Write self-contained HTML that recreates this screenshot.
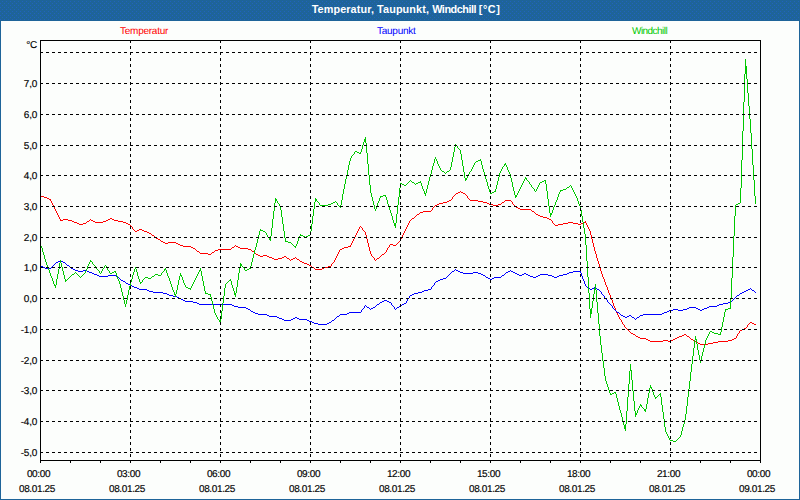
<!DOCTYPE html>
<html><head><meta charset="utf-8"><title>Temperatur, Taupunkt, Windchill</title>
<style>
html,body{margin:0;padding:0;}
body{width:800px;height:500px;overflow:hidden;background:#FCFEFC;font-family:"Liberation Sans",sans-serif;}
#wrap{position:relative;width:800px;height:500px;overflow:hidden;background:#FCFEFC;}
#hdr{position:absolute;left:0;top:0;width:800px;height:21px;background:#1E6499;}
#title{position:absolute;left:6px;top:-1px;width:800px;height:20px;line-height:20px;text-align:center;color:#fff;font-weight:bold;font-size:10.85px;letter-spacing:0px;white-space:nowrap;}
.bl,.br,.bb{position:absolute;background:#1E6499;}
.bl{left:0;top:21px;width:1px;height:479px;}
.br{left:799px;top:21px;width:1px;height:479px;}
.bb{left:0;top:499px;width:800px;height:1px;}
.leg{position:absolute;top:25px;letter-spacing:-0.25px;text-rendering:geometricPrecision;font-size:10px;line-height:14px;white-space:nowrap;}
.yl{position:absolute;left:0;width:37px;text-align:right;letter-spacing:-0.25px;text-rendering:geometricPrecision;-webkit-text-stroke:0.15px #000;font-size:10px;line-height:14px;color:#000;white-space:nowrap;}
.xl{position:absolute;width:80px;text-align:center;letter-spacing:-0.36px;text-rendering:geometricPrecision;-webkit-text-stroke:0.15px #000;font-size:10px;line-height:14px;color:#000;white-space:nowrap;}
svg{position:absolute;left:0;top:0;}
</style></head><body><div id="wrap">
<svg id="hdrsvg" width="800" height="21" viewBox="0 0 800 21" shape-rendering="crispEdges"><defs><pattern id="dth" x="0" y="0" width="4" height="4" patternUnits="userSpaceOnUse"><rect width="4" height="4" fill="#1E6499"/><rect x="0" y="3" width="1" height="1" fill="#2163BE"/><rect x="2" y="1" width="1" height="1" fill="#2163BE"/></pattern></defs><rect width="800" height="21" fill="url(#dth)"/></svg><div id="title"><span style="letter-spacing:0.1px">Temperatur, Taupunkt, </span><span style="letter-spacing:-0.45px">Windchill </span><span style="letter-spacing:0.55px">[°C]</span></div>
<div class="bl"></div><div class="br"></div><div class="bb"></div>
<div class="leg" style="left:120px;color:#FF0000">Temperatur</div>
<div class="leg" style="left:377px;color:#0000FF">Taupunkt</div>
<div class="leg" style="left:632px;color:#00C800;letter-spacing:-0.55px">Windchill</div>
<div class="yl" style="top:39px">°C</div>
<div class="yl" style="top:78px">7,0</div>
<div class="yl" style="top:109px">6,0</div>
<div class="yl" style="top:140px">5,0</div>
<div class="yl" style="top:170px">4,0</div>
<div class="yl" style="top:201px">3,0</div>
<div class="yl" style="top:232px">2,0</div>
<div class="yl" style="top:262px">1,0</div>
<div class="yl" style="top:293px">0,0</div>
<div class="yl" style="top:324px">-1,0</div>
<div class="yl" style="top:355px">-2,0</div>
<div class="yl" style="top:385px">-3,0</div>
<div class="yl" style="top:416px">-4,0</div>
<div class="yl" style="top:447px">-5,0</div>
<div class="xl" style="left:-1.5px;top:468px">00:00</div><div class="xl" style="left:-3px;top:483px">08.01.25</div>
<div class="xl" style="left:88.5px;top:468px">03:00</div><div class="xl" style="left:87px;top:483px">08.01.25</div>
<div class="xl" style="left:178.5px;top:468px">06:00</div><div class="xl" style="left:177px;top:483px">08.01.25</div>
<div class="xl" style="left:268.5px;top:468px">09:00</div><div class="xl" style="left:267px;top:483px">08.01.25</div>
<div class="xl" style="left:358.5px;top:468px">12:00</div><div class="xl" style="left:357px;top:483px">08.01.25</div>
<div class="xl" style="left:448.5px;top:468px">15:00</div><div class="xl" style="left:447px;top:483px">08.01.25</div>
<div class="xl" style="left:538.5px;top:468px">18:00</div><div class="xl" style="left:537px;top:483px">08.01.25</div>
<div class="xl" style="left:628.5px;top:468px">21:00</div><div class="xl" style="left:627px;top:483px">08.01.25</div>
<div class="xl" style="left:718.5px;top:468px">00:00</div><div class="xl" style="left:717px;top:483px">09.01.25</div>
<svg width="800" height="500" viewBox="0 0 800 500" shape-rendering="crispEdges">
<path fill="#FF0000" d="M258 255h2v1h-2zM263 255h4v1h-4zM682 335h2v1h-2zM640 338h6v1h-6zM675 338h2v1h-2zM734 338h2v1h-2zM180 245h3v1h-3zM393 245h3v1h-3zM63 219h5v1h-5zM108 219h2v1h-2zM112 219h2v1h-2zM549 219h2v1h-2zM74 222h3v1h-3zM95 222h8v1h-8zM123 222h3v1h-3zM568 222h5v1h-5zM583 222h3v1h-3zM540 216h3v1h-3zM555 225h3v1h-3zM648 340h2v1h-2zM663 340h5v1h-5zM671 340h2v1h-2zM693 340h2v1h-2zM728 340h4v1h-4zM200 253h8v1h-8zM137 230h2v1h-2zM142 230h2v1h-2zM328 266h3v1h-3zM447 201h2v1h-2zM478 201h5v1h-5zM139 229h3v1h-3zM696 342h2v1h-2zM713 342h5v1h-5zM520 209h11v1h-11zM443 202h4v1h-4zM483 202h4v1h-4zM502 202h2v1h-2zM77 223h2v1h-2zM83 223h3v1h-3zM126 223h2v1h-2zM563 223h5v1h-5zM573 223h5v1h-5zM581 223h2v1h-2zM650 341h13v1h-13zM668 341h3v1h-3zM718 341h10v1h-10zM156 238h2v1h-2zM191 247h2v1h-2zM232 247h2v1h-2zM238 247h2v1h-2zM344 247h4v1h-4zM72 221h2v1h-2zM87 221h2v1h-2zM93 221h2v1h-2zM103 221h3v1h-3zM118 221h5v1h-5zM304 263h3v1h-3zM79 224h4v1h-4zM128 224h2v1h-2zM558 224h5v1h-5zM578 224h3v1h-3zM212 252h2v1h-2zM163 242h2v1h-2zM168 242h8v1h-8zM274 259h4v1h-4zM291 259h2v1h-2zM297 259h2v1h-2zM700 344h8v1h-8zM636 336h2v1h-2zM679 336h3v1h-3zM687 336h2v1h-2zM193 248h2v1h-2zM240 248h8v1h-8zM342 248h2v1h-2zM208 254h3v1h-3zM256 254h2v1h-2zM382 254h2v1h-2zM315 269h7v1h-7zM218 249h13v1h-13zM248 249h3v1h-3zM340 249h2v1h-2zM449 200h2v1h-2zM470 200h8v1h-8zM505 200h6v1h-6zM638 337h2v1h-2zM677 337h2v1h-2zM147 232h2v1h-2zM260 256h3v1h-3zM267 256h2v1h-2zM284 256h2v1h-2zM458 192h2v1h-2zM461 192h2v1h-2zM60 220h3v1h-3zM68 220h4v1h-4zM91 220h2v1h-2zM106 220h2v1h-2zM114 220h4v1h-4zM439 203h4v1h-4zM487 203h2v1h-2zM307 264h2v1h-2zM178 244h2v1h-2zM390 244h3v1h-3zM423 211h8v1h-8zM532 211h2v1h-2zM437 204h2v1h-2zM489 204h4v1h-4zM498 204h3v1h-3zM110 218h2v1h-2zM412 218h2v1h-2zM547 218h2v1h-2zM698 343h2v1h-2zM708 343h5v1h-5zM646 339h2v1h-2zM673 339h2v1h-2zM691 339h2v1h-2zM732 339h2v1h-2zM49 199h2v1h-2zM631 333h2v1h-2zM269 257h3v1h-3zM282 257h2v1h-2zM41 196h3v1h-3zM417 214h2v1h-2zM536 214h2v1h-2zM272 258h2v1h-2zM278 258h4v1h-4zM287 258h2v1h-2zM293 258h2v1h-2zM377 258h2v1h-2zM456 193h2v1h-2zM463 193h2v1h-2zM538 215h2v1h-2zM158 239h2v1h-2zM518 208h2v1h-2zM435 205h2v1h-2zM493 205h5v1h-5zM165 243h3v1h-3zM176 243h2v1h-2zM312 267h2v1h-2zM324 267h4v1h-4zM47 198h2v1h-2zM183 246h8v1h-8zM236 246h2v1h-2zM348 246h3v1h-3zM633 334h2v1h-2zM684 334h2v1h-2zM152 235h2v1h-2zM135 231h2v1h-2zM144 231h3v1h-3zM197 251h2v1h-2zM252 251h2v1h-2zM516 207h2v1h-2zM215 250h3v1h-3zM740 330h2v1h-2zM752 323h2v1h-2zM420 212h3v1h-3zM543 217h4v1h-4zM161 241h2v1h-2zM742 329h2v1h-2zM300 261h2v1h-2zM44 197h3v1h-3zM744 328h2v1h-2zM149 233h2v1h-2zM302 262h2v1h-2zM754 324h2v1h-2zM750 322h2v1h-2zM309 265h2v1h-2zM322 268h2v1h-2zM593 243h1v4h-1zM407 225h1v2h-1zM604 279h1v3h-1zM354 237h1v2h-1zM589 229h1v2h-1zM311 266h1v1h-1zM597 258h1v3h-1zM586 223h1v2h-1zM366 235h1v4h-1zM400 239h1v2h-1zM160 240h1v1h-1zM610 295h1v3h-1zM335 258h1v2h-1zM58 215h1v2h-1zM600 268h1v3h-1zM511 201h1v1h-1zM621 320h1v2h-1zM353 239h1v2h-1zM596 254h1v4h-1zM747 325h1v2h-1zM365 232h1v3h-1zM358 229h1v2h-1zM434 206h1v1h-1zM599 264h1v4h-1zM469 199h1v1h-1zM738 333h1v1h-1zM635 335h1v1h-1zM357 231h1v2h-1zM295 257h1v1h-1zM624 325h1v2h-1zM453 196h1v1h-1zM57 213h1v2h-1zM296 258h1v1h-1zM254 252h1v1h-1zM617 313h1v2h-1zM54 207h1v2h-1zM606 285h1v2h-1zM614 306h1v2h-1zM51 201h1v2h-1zM410 220h1v1h-1zM468 198h1v1h-1zM337 254h1v2h-1zM151 234h1v1h-1zM592 239h1v4h-1zM352 241h1v2h-1zM585 221h1v1h-1zM746 327h1v1h-1zM554 224h1v1h-1zM155 237h1v1h-1zM406 227h1v2h-1zM595 251h1v3h-1zM234 246h1v1h-1zM616 311h1v2h-1zM368 243h1v4h-1zM211 253h1v1h-1zM628 330h1v1h-1zM613 303h1v3h-1zM367 239h1v4h-1zM452 197h1v2h-1zM749 323h1v1h-1zM414 217h1v1h-1zM371 254h1v2h-1zM609 293h1v2h-1zM196 250h1v1h-1zM513 204h1v1h-1zM737 334h1v2h-1zM53 205h1v2h-1zM627 329h1v1h-1zM56 211h1v2h-1zM336 256h1v2h-1zM433 207h1v1h-1zM356 233h1v2h-1zM467 196h1v2h-1zM231 248h1v1h-1zM598 261h1v3h-1zM405 229h1v2h-1zM501 203h1v1h-1zM512 202h1v2h-1zM332 263h1v1h-1zM608 290h1v3h-1zM401 237h1v2h-1zM601 271h1v3h-1zM360 226h1v1h-1zM132 227h1v2h-1zM591 235h1v4h-1zM594 247h1v4h-1zM409 221h1v2h-1zM52 203h1v2h-1zM615 308h1v3h-1zM605 282h1v3h-1zM455 194h1v1h-1zM370 251h1v3h-1zM397 243h1v1h-1zM736 336h1v2h-1zM374 258h1v2h-1zM535 213h1v1h-1zM255 253h1v1h-1zM369 247h1v4h-1zM55 209h1v2h-1zM89 220h1v1h-1zM404 231h1v2h-1zM590 231h1v4h-1zM416 215h1v1h-1zM351 243h1v2h-1zM690 338h1v1h-1zM339 250h1v2h-1zM331 264h1v2h-1zM289 259h1v1h-1zM388 247h1v1h-1zM612 300h1v3h-1zM534 212h1v1h-1zM290 260h1v1h-1zM432 208h1v2h-1zM131 226h1v1h-1zM214 251h1v1h-1zM619 317h1v2h-1zM376 259h1v1h-1zM355 235h1v2h-1zM686 335h1v1h-1zM689 337h1v1h-1zM629 331h1v1h-1zM603 277h1v2h-1zM251 250h1v1h-1zM373 257h1v1h-1zM408 223h1v2h-1zM130 225h1v1h-1zM515 206h1v1h-1zM607 287h1v3h-1zM380 256h1v1h-1zM362 228h1v2h-1zM384 253h1v1h-1zM334 260h1v2h-1zM454 195h1v1h-1zM372 256h1v1h-1zM403 233h1v2h-1zM552 221h1v2h-1zM514 205h1v1h-1zM739 331h1v2h-1zM314 268h1v1h-1zM387 248h1v2h-1zM338 252h1v2h-1zM399 241h1v1h-1zM50 200h1v1h-1zM235 245h1v1h-1zM411 219h1v1h-1zM361 227h1v1h-1zM133 229h1v1h-1zM415 216h1v1h-1zM402 235h1v2h-1zM465 194h1v1h-1zM602 274h1v3h-1zM386 250h1v2h-1zM375 260h1v1h-1zM695 341h1v1h-1zM379 257h1v1h-1zM551 220h1v1h-1zM620 319h1v1h-1zM364 231h1v1h-1zM299 260h1v1h-1zM333 262h1v1h-1zM588 227h1v2h-1zM460 191h1v1h-1zM623 324h1v1h-1zM398 242h1v1h-1zM286 257h1v1h-1zM531 210h1v1h-1zM630 332h1v1h-1zM748 324h1v1h-1zM504 201h1v1h-1zM587 225h1v2h-1zM359 227h1v2h-1zM622 322h1v2h-1zM363 230h1v1h-1zM154 236h1v1h-1zM60 219h1v1h-1zM451 199h1v1h-1zM199 252h1v1h-1zM86 222h1v1h-1zM381 255h1v1h-1zM90 219h1v1h-1zM611 298h1v2h-1zM385 252h1v1h-1zM553 223h1v1h-1zM389 245h1v2h-1zM618 315h1v2h-1zM350 245h1v1h-1zM59 217h1v2h-1zM134 230h1v1h-1zM396 244h1v1h-1zM431 210h1v1h-1zM466 195h1v1h-1zM195 249h1v1h-1zM419 213h1v1h-1zM625 327h1v1h-1zM626 328h1v1h-1z"/>
<path fill="#0000FF" d="M234 306h4v1h-4zM709 306h8v1h-8zM97 275h2v1h-2zM108 275h8v1h-8zM483 275h2v1h-2zM502 275h2v1h-2zM519 275h3v1h-3zM528 275h2v1h-2zM538 275h2v1h-2zM548 275h4v1h-4zM559 275h4v1h-4zM253 312h2v1h-2zM349 312h12v1h-12zM617 312h2v1h-2zM664 312h3v1h-3zM132 286h2v1h-2zM246 308h2v1h-2zM371 308h2v1h-2zM687 308h2v1h-2zM696 308h2v1h-2zM704 308h3v1h-3zM248 309h2v1h-2zM673 309h5v1h-5zM683 309h4v1h-4zM698 309h2v1h-2zM702 309h2v1h-2zM318 324h9v1h-9zM279 318h3v1h-3zM293 318h2v1h-2zM297 318h2v1h-2zM238 307h8v1h-8zM367 307h2v1h-2zM373 307h2v1h-2zM397 307h2v1h-2zM689 307h7v1h-7zM707 307h2v1h-2zM277 317h2v1h-2zM295 317h2v1h-2zM625 317h2v1h-2zM632 317h2v1h-2zM637 317h2v1h-2zM89 272h3v1h-3zM460 272h3v1h-3zM473 272h5v1h-5zM506 272h2v1h-2zM513 272h2v1h-2zM569 272h4v1h-4zM163 293h4v1h-4zM414 293h4v1h-4zM740 293h2v1h-2zM282 319h2v1h-2zM291 319h2v1h-2zM299 319h8v1h-8zM92 273h2v1h-2zM463 273h10v1h-10zM478 273h3v1h-3zM515 273h2v1h-2zM524 273h2v1h-2zM567 273h2v1h-2zM255 313h3v1h-3zM347 313h2v1h-2zM662 313h2v1h-2zM94 274h3v1h-3zM481 274h2v1h-2zM517 274h2v1h-2zM522 274h2v1h-2zM526 274h2v1h-2zM540 274h8v1h-8zM563 274h4v1h-4zM258 314h9v1h-9zM340 314h7v1h-7zM643 314h19v1h-19zM199 304h33v1h-33zM377 304h2v1h-2zM402 304h2v1h-2zM719 304h4v1h-4zM167 294h2v1h-2zM412 294h2v1h-2zM185 301h8v1h-8zM382 301h2v1h-2zM387 301h2v1h-2zM45 268h6v1h-6zM71 268h2v1h-2zM128 284h2v1h-2zM134 287h3v1h-3zM587 287h2v1h-2zM594 287h2v1h-2zM183 300h2v1h-2zM384 300h3v1h-3zM193 302h4v1h-4zM380 302h2v1h-2zM389 302h2v1h-2zM728 302h3v1h-3zM267 315h2v1h-2zM621 315h2v1h-2zM629 315h2v1h-2zM640 315h3v1h-3zM443 278h3v1h-3zM488 278h2v1h-2zM492 278h2v1h-2zM99 276h9v1h-9zM530 276h3v1h-3zM536 276h2v1h-2zM552 276h2v1h-2zM557 276h2v1h-2zM75 270h3v1h-3zM83 270h4v1h-4zM456 270h2v1h-2zM41 266h2v1h-2zM177 297h2v1h-2zM284 320h7v1h-7zM307 320h2v1h-2zM332 320h2v1h-2zM669 310h4v1h-4zM678 310h5v1h-5zM700 310h2v1h-2zM153 292h10v1h-10zM418 292h4v1h-4zM742 292h2v1h-2zM149 291h4v1h-4zM422 291h2v1h-2zM744 291h2v1h-2zM269 316h8v1h-8zM337 316h2v1h-2zM623 316h2v1h-2zM627 316h2v1h-2zM137 288h2v1h-2zM592 288h2v1h-2zM181 299h2v1h-2zM78 271h5v1h-5zM87 271h2v1h-2zM452 271h2v1h-2zM458 271h2v1h-2zM508 271h2v1h-2zM511 271h2v1h-2zM573 271h8v1h-8zM173 296h4v1h-4zM56 262h2v1h-2zM63 262h2v1h-2zM440 279h3v1h-3zM490 279h2v1h-2zM73 269h2v1h-2zM197 303h2v1h-2zM404 303h2v1h-2zM723 303h5v1h-5zM147 290h2v1h-2zM424 290h4v1h-4zM746 290h2v1h-2zM752 290h2v1h-2zM123 281h2v1h-2zM436 281h2v1h-2zM179 298h2v1h-2zM139 289h8v1h-8zM428 289h3v1h-3zM590 289h2v1h-2zM597 289h2v1h-2zM748 289h2v1h-2zM251 311h2v1h-2zM667 311h2v1h-2zM232 305h2v1h-2zM400 305h2v1h-2zM717 305h2v1h-2zM117 277h2v1h-2zM486 277h2v1h-2zM494 277h7v1h-7zM533 277h3v1h-3zM554 277h3v1h-3zM312 322h2v1h-2zM329 322h2v1h-2zM314 323h4v1h-4zM327 323h2v1h-2zM169 295h4v1h-4zM410 295h2v1h-2zM737 295h2v1h-2zM309 321h3v1h-3zM43 267h2v1h-2zM126 283h2v1h-2zM58 261h2v1h-2zM61 261h2v1h-2zM121 280h2v1h-2zM438 280h2v1h-2zM130 285h2v1h-2zM67 265h2v1h-2zM362 309h1v1h-1zM409 296h1v2h-1zM394 307h1v2h-1zM601 292h1v2h-1zM610 304h1v1h-1zM331 321h1v1h-1zM620 314h1v1h-1zM582 276h1v3h-1zM581 273h1v3h-1zM612 306h1v2h-1zM583 279h1v2h-1zM406 301h1v2h-1zM407 299h1v2h-1zM70 267h1v1h-1zM434 283h1v2h-1zM607 300h1v2h-1zM634 318h1v1h-1zM501 276h1v1h-1zM392 305h1v1h-1zM432 286h1v1h-1zM250 310h1v1h-1zM635 319h1v1h-1zM53 265h1v1h-1zM54 264h1v1h-1zM450 273h1v1h-1zM619 313h1v1h-1zM505 273h1v1h-1zM589 288h1v1h-1zM363 308h1v1h-1zM365 305h1v1h-1zM51 267h1v1h-1zM52 266h1v1h-1zM448 275h1v1h-1zM449 274h1v1h-1zM393 306h1v1h-1zM504 274h1v1h-1zM604 296h1v2h-1zM361 310h1v2h-1zM755 292h1v1h-1zM584 281h1v3h-1zM364 306h1v2h-1zM603 295h1v1h-1zM731 301h1v1h-1zM335 318h1v1h-1zM605 298h1v1h-1zM336 317h1v1h-1zM69 266h1v1h-1zM119 278h1v1h-1zM606 299h1v1h-1zM586 286h1v1h-1zM596 288h1v1h-1zM451 272h1v1h-1zM615 310h1v1h-1zM754 291h1v1h-1zM391 303h1v2h-1zM120 279h1v1h-1zM455 269h1v1h-1zM639 316h1v1h-1zM395 309h1v1h-1zM376 305h1v1h-1zM485 276h1v1h-1zM454 270h1v1h-1zM366 306h1v1h-1zM60 260h1v1h-1zM66 264h1v1h-1zM447 276h1v1h-1zM736 296h1v1h-1zM613 308h1v1h-1zM339 315h1v1h-1zM631 316h1v1h-1zM431 287h1v2h-1zM334 319h1v1h-1zM125 282h1v1h-1zM585 284h1v2h-1zM750 288h1v1h-1zM408 298h1v1h-1zM751 289h1v1h-1zM396 308h1v1h-1zM616 311h1v1h-1zM602 294h1v1h-1zM65 263h1v1h-1zM399 306h1v1h-1zM375 306h1v1h-1zM580 272h1v1h-1zM611 305h1v1h-1zM369 308h1v1h-1zM379 303h1v1h-1zM370 309h1v1h-1zM446 277h1v1h-1zM636 318h1v1h-1zM735 297h1v1h-1zM55 263h1v1h-1zM510 270h1v1h-1zM599 290h1v1h-1zM614 309h1v1h-1zM608 302h1v1h-1zM116 276h1v1h-1zM733 299h1v1h-1zM433 285h1v1h-1zM734 298h1v1h-1zM435 282h1v1h-1zM739 294h1v1h-1zM600 291h1v1h-1zM609 303h1v1h-1zM732 300h1v1h-1z"/>
<path fill="#00C800" d="M72 274h2v1h-2zM155 274h3v1h-3zM199 270h2v1h-2zM245 270h2v1h-2zM269 238h2v1h-2zM567 187h2v1h-2zM148 278h3v1h-3zM412 182h2v1h-2zM418 182h3v1h-3zM540 182h2v1h-2zM65 280h2v1h-2zM229 280h2v1h-2zM205 293h3v1h-3zM234 293h2v1h-2zM612 393h2v1h-2zM380 196h3v1h-3zM515 196h2v1h-2zM542 181h2v1h-2zM275 200h2v1h-2zM315 200h2v1h-2zM550 213h2v1h-2zM402 184h2v1h-2zM90 261h2v1h-2zM563 189h3v1h-3zM158 275h3v1h-3zM180 275h2v1h-2zM188 288h3v1h-3zM594 288h2v1h-2zM110 273h2v1h-2zM294 246h2v1h-2zM624 425h2v1h-2zM339 206h2v1h-2zM590 313h2v1h-2zM745 72h2v1h-2zM394 223h2v1h-2zM357 152h2v1h-2zM476 161h2v1h-2zM331 203h2v1h-2zM738 203h2v1h-2zM492 192h2v1h-2zM174 294h2v1h-2zM208 294h3v1h-3zM234 294h2v1h-2zM355 151h2v1h-2zM275 199h2v1h-2zM315 199h2v1h-2zM594 289h2v1h-2zM164 269h2v1h-2zM247 269h2v1h-2zM465 179h2v1h-2zM560 190h3v1h-3zM644 410h2v1h-2zM728 308h3v1h-3zM550 214h2v1h-2zM152 276h2v1h-2zM424 193h2v1h-2zM490 193h2v1h-2zM544 180h2v1h-2zM670 440h3v1h-3zM400 183h2v1h-2zM416 183h2v1h-2zM590 309h2v1h-2zM725 309h3v1h-3zM114 271h2v1h-2zM303 236h2v1h-2zM306 236h2v1h-2zM364 141h2v1h-2zM240 264h2v1h-2zM494 191h2v1h-2zM442 171h2v1h-2zM447 171h2v1h-2zM635 414h2v1h-2zM624 427h2v1h-2zM219 321h2v1h-2zM54 285h2v1h-2zM145 277h3v1h-3zM590 312h2v1h-2zM240 265h2v1h-2zM269 239h2v1h-2zM186 287h2v1h-2zM745 69h2v1h-2zM610 394h2v1h-2zM659 394h2v1h-2zM328 204h3v1h-3zM736 204h2v1h-2zM383 195h3v1h-3zM515 195h2v1h-2zM300 235h3v1h-3zM308 235h2v1h-2zM590 310h2v1h-2zM333 202h2v1h-2zM285 241h3v1h-3zM140 282h2v1h-2zM504 164h2v1h-2zM394 225h2v1h-2zM112 272h2v1h-2zM714 333h4v1h-4zM745 71h2v1h-2zM263 231h2v1h-2zM644 409h2v1h-2zM712 332h2v1h-2zM364 139h2v1h-2zM465 178h2v1h-2zM525 178h2v1h-2zM219 320h2v1h-2zM655 397h2v1h-2zM288 242h3v1h-3zM630 370h2v1h-2zM590 311h2v1h-2zM455 145h2v1h-2zM745 68h2v1h-2zM359 153h2v1h-2zM320 205h8v1h-8zM394 224h2v1h-2zM624 428h2v1h-2zM249 268h2v1h-2zM640 405h2v1h-2zM614 392h2v1h-2zM478 160h3v1h-3zM718 334h3v1h-3zM624 426h2v1h-2zM404 185h2v1h-2zM745 73h2v1h-2zM260 230h3v1h-3zM745 70h2v1h-2zM695 339h2v1h-2zM710 331h2v1h-2zM650 387h2v1h-2zM364 140h2v1h-2zM635 413h2v1h-2zM745 67h2v1h-2zM745 66h2v1h-2zM673 441h3v1h-3zM57 274h1v5h-1zM679 437h1v1h-1zM599 324h1v12h-1zM49 270h1v3h-1zM344 184h1v5h-1zM747 79h1v14h-1zM193 282h1v2h-1zM368 164h1v11h-1zM144 278h1v1h-1zM734 216h1v20h-1zM697 344h1v6h-1zM52 278h1v3h-1zM634 401h1v10h-1zM586 245h1v16h-1zM53 281h1v3h-1zM615 393h1v1h-1zM582 216h1v6h-1zM385 196h1v1h-1zM365 137h1v2h-1zM365 142h1v1h-1zM409 181h1v1h-1zM556 200h1v2h-1zM649 388h1v5h-1zM601 345h1v8h-1zM313 209h1v7h-1zM473 165h1v2h-1zM485 176h1v3h-1zM754 180h1v16h-1zM631 371h1v9h-1zM60 260h1v3h-1zM389 207h1v3h-1zM661 397h1v8h-1zM495 189h1v2h-1zM177 285h1v5h-1zM735 205h1v11h-1zM432 166h1v4h-1zM296 244h1v2h-1zM201 271h1v5h-1zM733 236h1v21h-1zM683 424h1v3h-1zM488 186h1v3h-1zM548 199h1v7h-1zM392 216h1v4h-1zM691 364h1v8h-1zM724 312h1v5h-1zM120 284h1v4h-1zM469 172h1v2h-1zM752 149h1v16h-1zM367 153h1v11h-1zM522 183h1v2h-1zM688 389h1v8h-1zM223 296h1v7h-1zM626 411h1v13h-1zM585 234h1v11h-1zM598 313h1v11h-1zM731 278h1v20h-1zM271 228h1v8h-1zM732 257h1v21h-1zM686 406h1v8h-1zM136 269h1v3h-1zM604 368h1v8h-1zM343 189h1v5h-1zM664 419h1v8h-1zM588 277h1v16h-1zM211 297h1v4h-1zM222 303h1v8h-1zM645 411h1v1h-1zM748 93h1v13h-1zM281 210h1v7h-1zM181 276h1v1h-1zM630 364h1v6h-1zM427 185h1v4h-1zM259 231h1v4h-1zM514 191h1v4h-1zM607 384h1v3h-1zM369 175h1v10h-1zM214 309h1v4h-1zM423 189h1v2h-1zM751 133h1v16h-1zM699 355h1v5h-1zM169 278h1v3h-1zM584 228h1v6h-1zM629 371h1v13h-1zM648 393h1v5h-1zM59 263h1v6h-1zM461 154h1v6h-1zM744 74h1v28h-1zM692 356h1v8h-1zM396 214h1v9h-1zM400 184h1v4h-1zM506 165h1v2h-1zM431 170h1v4h-1zM295 247h1v1h-1zM603 361h1v7h-1zM663 412h1v7h-1zM682 427h1v4h-1zM468 174h1v2h-1zM44 255h1v4h-1zM743 102h1v29h-1zM587 261h1v16h-1zM633 391h1v10h-1zM571 186h1v2h-1zM254 250h1v4h-1zM510 174h1v4h-1zM723 317h1v5h-1zM521 185h1v2h-1zM285 238h1v3h-1zM89 262h1v2h-1zM203 281h1v5h-1zM47 265h1v3h-1zM395 226h1v2h-1zM237 280h1v7h-1zM750 119h1v14h-1zM594 290h1v4h-1zM123 296h1v4h-1zM578 201h1v3h-1zM685 414h1v6h-1zM597 302h1v11h-1zM517 193h1v2h-1zM51 276h1v2h-1zM426 189h1v4h-1zM581 210h1v6h-1zM438 164h1v2h-1zM498 177h1v4h-1zM221 311h1v8h-1zM342 194h1v6h-1zM233 288h1v3h-1zM225 284h1v4h-1zM753 165h1v15h-1zM610 393h1v1h-1zM617 398h1v4h-1zM217 317h1v2h-1zM547 191h1v8h-1zM484 172h1v4h-1zM362 145h1v4h-1zM273 211h1v8h-1zM372 197h1v4h-1zM647 398h1v6h-1zM741 160h1v28h-1zM742 131h1v29h-1zM430 174h1v3h-1zM172 287h1v3h-1zM119 281h1v3h-1zM70 276h1v1h-1zM755 196h1v8h-1zM464 172h1v6h-1zM399 188h1v9h-1zM93 264h1v1h-1zM643 408h1v1h-1zM722 322h1v5h-1zM520 187h1v2h-1zM277 201h1v2h-1zM550 215h1v2h-1zM310 231h1v4h-1zM740 188h1v15h-1zM268 237h1v1h-1zM314 202h1v7h-1zM690 372h1v9h-1zM694 340h1v8h-1zM600 336h1v9h-1zM398 197h1v8h-1zM593 294h1v7h-1zM698 350h1v5h-1zM497 181h1v4h-1zM422 186h1v3h-1zM730 298h1v10h-1zM434 159h1v4h-1zM589 293h1v16h-1zM689 381h1v8h-1zM224 288h1v8h-1zM725 310h1v2h-1zM583 222h1v6h-1zM745 59h1v7h-1zM272 219h1v9h-1zM77 274h1v1h-1zM366 143h1v10h-1zM378 201h1v2h-1zM406 184h1v1h-1zM257 239h1v4h-1zM61 263h1v4h-1zM505 163h1v1h-1zM453 152h1v5h-1zM632 380h1v11h-1zM62 267h1v4h-1zM390 210h1v3h-1zM662 405h1v7h-1zM43 252h1v3h-1zM345 179h1v5h-1zM501 169h1v2h-1zM375 209h1v2h-1zM628 384h1v13h-1zM596 290h1v12h-1zM137 272h1v4h-1zM580 206h1v4h-1zM122 292h1v4h-1zM627 397h1v14h-1zM252 258h1v4h-1zM693 348h1v8h-1zM721 327h1v5h-1zM397 205h1v9h-1zM437 161h1v3h-1zM608 387h1v3h-1zM183 280h1v3h-1zM592 301h1v7h-1zM215 313h1v2h-1zM609 390h1v3h-1zM433 163h1v3h-1zM216 315h1v2h-1zM684 420h1v4h-1zM546 184h1v7h-1zM283 224h1v7h-1zM538 185h1v2h-1zM557 197h1v3h-1zM240 263h1v1h-1zM240 266h1v1h-1zM709 332h1v2h-1zM171 284h1v3h-1zM129 286h1v4h-1zM504 165h1v1h-1zM102 269h1v2h-1zM275 198h1v1h-1zM275 201h1v2h-1zM463 166h1v6h-1zM749 106h1v13h-1zM549 206h1v7h-1zM569 186h1v1h-1zM279 204h1v2h-1zM500 171h1v2h-1zM511 178h1v4h-1zM88 264h1v2h-1zM428 181h1v4h-1zM512 182h1v5h-1zM270 236h1v2h-1zM270 240h1v1h-1zM274 203h1v8h-1zM251 262h1v4h-1zM720 332h1v2h-1zM163 271h1v1h-1zM526 179h1v1h-1zM537 187h1v2h-1zM591 308h1v1h-1zM708 334h1v2h-1zM619 406h1v4h-1zM106 266h1v2h-1zM687 397h1v9h-1zM128 290h1v5h-1zM746 74h1v5h-1zM101 271h1v2h-1zM451 162h1v5h-1zM230 279h1v1h-1zM352 155h1v1h-1zM499 173h1v4h-1zM86 269h1v2h-1zM660 393h1v1h-1zM660 395h1v2h-1zM184 283h1v2h-1zM481 161h1v4h-1zM545 181h1v3h-1zM282 217h1v7h-1zM166 270h1v3h-1zM370 185h1v8h-1zM242 266h1v1h-1zM74 273h1v1h-1zM200 268h1v2h-1zM312 216h1v8h-1zM291 243h1v1h-1zM462 160h1v6h-1zM63 271h1v4h-1zM292 244h1v1h-1zM238 273h1v7h-1zM507 167h1v3h-1zM97 269h1v1h-1zM48 268h1v2h-1zM414 183h1v1h-1zM559 192h1v2h-1zM85 271h1v2h-1zM299 236h1v2h-1zM131 279h1v3h-1zM347 170h1v5h-1zM115 272h1v1h-1zM199 271h1v1h-1zM528 181h1v1h-1zM116 273h1v3h-1zM529 182h1v2h-1zM532 187h1v1h-1zM429 177h1v4h-1zM58 269h1v5h-1zM680 435h1v2h-1zM311 224h1v7h-1zM195 278h1v2h-1zM665 427h1v5h-1zM702 352h1v4h-1zM236 287h1v6h-1zM142 280h1v2h-1zM558 194h1v3h-1zM669 438h1v2h-1zM654 395h1v2h-1zM243 267h1v1h-1zM457 146h1v2h-1zM341 200h1v5h-1zM298 238h1v3h-1zM130 282h1v4h-1zM244 268h1v2h-1zM293 245h1v1h-1zM198 272h1v2h-1zM620 410h1v3h-1zM646 404h1v5h-1zM96 267h1v2h-1zM623 421h1v4h-1zM99 271h1v2h-1zM65 279h1v1h-1zM65 281h1v1h-1zM354 152h1v2h-1zM573 190h1v2h-1zM194 280h1v2h-1zM616 394h1v4h-1zM440 168h1v2h-1zM386 197h1v3h-1zM602 353h1v8h-1zM164 270h1v1h-1zM530 184h1v1h-1zM531 185h1v2h-1zM553 207h1v3h-1zM605 376h1v5h-1zM212 301h1v4h-1zM638 408h1v2h-1zM133 272h1v3h-1zM455 144h1v1h-1zM455 146h1v1h-1zM349 161h1v4h-1zM178 280h1v5h-1zM700 360h1v3h-1zM71 275h1v1h-1zM42 248h1v4h-1zM239 267h1v6h-1zM625 424h1v1h-1zM625 429h1v2h-1zM572 188h1v2h-1zM575 194h1v2h-1zM204 286h1v5h-1zM552 210h1v3h-1zM704 344h1v4h-1zM696 340h1v4h-1zM579 204h1v2h-1zM258 235h1v4h-1zM231 281h1v4h-1zM439 166h1v2h-1zM637 410h1v3h-1zM253 254h1v4h-1zM278 203h1v1h-1zM220 319h1v1h-1zM220 322h1v1h-1zM472 167h1v2h-1zM284 231h1v7h-1zM176 290h1v4h-1zM391 213h1v3h-1zM490 192h1v1h-1zM695 336h1v3h-1zM180 273h1v2h-1zM138 276h1v3h-1zM606 381h1v3h-1zM126 300h1v4h-1zM213 305h1v4h-1zM651 388h1v1h-1zM475 162h1v1h-1zM539 183h1v2h-1zM256 243h1v4h-1zM471 169h1v2h-1zM524 179h1v2h-1zM509 172h1v2h-1zM353 154h1v1h-1zM467 176h1v2h-1zM205 291h1v2h-1zM280 206h1v4h-1zM50 273h1v3h-1zM125 304h1v3h-1zM459 149h1v1h-1zM424 191h1v2h-1zM635 411h1v2h-1zM635 415h1v2h-1zM701 356h1v4h-1zM460 150h1v4h-1zM190 289h1v1h-1zM235 295h1v2h-1zM371 193h1v4h-1zM255 247h1v3h-1zM340 205h1v1h-1zM340 207h1v1h-1zM527 180h1v1h-1zM489 189h1v3h-1zM121 288h1v4h-1zM523 181h1v2h-1zM560 191h1v1h-1zM87 266h1v3h-1zM56 279h1v6h-1zM519 189h1v2h-1zM250 266h1v2h-1zM227 282h1v1h-1zM650 385h1v2h-1zM185 285h1v2h-1zM83 274h1v1h-1zM167 273h1v3h-1zM154 275h1v1h-1zM377 203h1v3h-1zM45 259h1v3h-1zM508 170h1v2h-1zM641 406h1v1h-1zM518 191h1v2h-1zM435 157h1v2h-1zM446 172h1v1h-1zM139 279h1v3h-1zM300 234h1v1h-1zM415 184h1v1h-1zM55 286h1v2h-1zM454 147h1v5h-1zM105 265h1v1h-1zM108 270h1v1h-1zM109 271h1v2h-1zM376 206h1v3h-1zM590 314h1v4h-1zM503 166h1v1h-1zM513 187h1v4h-1zM410 180h1v1h-1zM411 181h1v1h-1zM655 398h1v1h-1zM407 183h1v1h-1zM555 202h1v3h-1zM104 266h1v2h-1zM536 189h1v2h-1zM502 167h1v2h-1zM574 192h1v2h-1zM577 198h1v3h-1zM315 198h1v1h-1zM315 201h1v1h-1zM232 285h1v3h-1zM387 200h1v4h-1zM168 276h1v2h-1zM452 157h1v5h-1zM260 229h1v1h-1zM421 183h1v3h-1zM305 237h1v1h-1zM361 149h1v3h-1zM374 205h1v4h-1zM98 270h1v1h-1zM68 278h1v1h-1zM576 196h1v2h-1zM317 201h1v1h-1zM124 300h1v4h-1zM667 434h1v2h-1zM132 275h1v4h-1zM82 275h1v1h-1zM348 165h1v5h-1zM653 392h1v3h-1zM75 272h1v1h-1zM496 185h1v4h-1zM297 241h1v3h-1zM533 188h1v1h-1zM173 290h1v2h-1zM534 189h1v2h-1zM595 284h1v4h-1zM127 295h1v5h-1zM677 439h1v1h-1zM450 167h1v3h-1zM445 173h1v1h-1zM458 148h1v1h-1zM618 402h1v4h-1zM388 204h1v3h-1zM41 246h1v2h-1zM487 182h1v4h-1zM100 273h1v1h-1zM373 201h1v4h-1zM566 188h1v1h-1zM351 156h1v2h-1zM319 203h1v2h-1zM265 232h1v1h-1zM210 295h1v2h-1zM666 432h1v2h-1zM441 170h1v1h-1zM652 389h1v3h-1zM363 142h1v3h-1zM161 273h1v2h-1zM535 191h1v1h-1zM346 175h1v4h-1zM706 338h1v2h-1zM134 269h1v3h-1zM350 158h1v3h-1zM228 281h1v1h-1zM179 276h1v4h-1zM84 273h1v1h-1zM658 395h1v1h-1zM379 198h1v3h-1zM486 179h1v3h-1zM107 268h1v2h-1zM705 340h1v4h-1zM202 276h1v5h-1zM92 262h1v2h-1zM267 235h1v2h-1zM515 197h1v1h-1zM218 319h1v1h-1zM622 417h1v4h-1zM46 262h1v3h-1zM678 438h1v1h-1zM143 279h1v1h-1zM436 159h1v2h-1zM408 182h1v1h-1zM117 276h1v3h-1zM196 276h1v2h-1zM703 348h1v4h-1zM621 413h1v4h-1zM707 336h1v2h-1zM640 404h1v1h-1zM135 267h1v2h-1zM480 159h1v1h-1zM483 169h1v3h-1zM165 268h1v1h-1zM554 205h1v2h-1zM69 277h1v1h-1zM175 295h1v2h-1zM681 431h1v4h-1zM639 406h1v2h-1zM444 172h1v1h-1zM425 194h1v2h-1zM336 202h1v1h-1zM337 203h1v2h-1zM393 220h1v3h-1zM118 279h1v2h-1zM151 277h1v1h-1zM642 407h1v1h-1zM182 277h1v3h-1zM668 436h1v2h-1zM482 165h1v4h-1zM170 281h1v3h-1zM76 273h1v1h-1zM174 292h1v2h-1zM197 274h1v2h-1zM103 268h1v1h-1zM64 275h1v4h-1zM420 181h1v1h-1zM234 291h1v2h-1zM162 272h1v1h-1zM338 205h1v1h-1zM90 260h1v1h-1zM449 170h1v1h-1zM192 284h1v2h-1zM266 233h1v2h-1zM226 283h1v1h-1zM380 197h1v1h-1zM570 185h1v1h-1zM191 286h1v2h-1zM81 276h1v1h-1zM318 202h1v1h-1zM676 440h1v1h-1zM360 152h1v1h-1zM140 283h1v1h-1zM474 163h1v2h-1zM470 171h1v1h-1zM94 265h1v1h-1zM95 266h1v1h-1zM78 275h1v1h-1zM525 177h1v1h-1zM657 396h1v1h-1zM79 276h1v1h-1zM335 201h1v1h-1zM67 279h1v1h-1zM465 180h1v1h-1zM54 284h1v1h-1zM80 277h1v1h-1z"/>
<g stroke="#000" stroke-width="1" stroke-dasharray="3 3" fill="none">
<line x1="40" y1="52.5" x2="760" y2="52.5"/><line x1="40" y1="83.5" x2="760" y2="83.5"/><line x1="40" y1="114.5" x2="760" y2="114.5"/><line x1="40" y1="145.5" x2="760" y2="145.5"/><line x1="40" y1="175.5" x2="760" y2="175.5"/><line x1="40" y1="206.5" x2="760" y2="206.5"/><line x1="40" y1="237.5" x2="760" y2="237.5"/><line x1="40" y1="267.5" x2="760" y2="267.5"/><line x1="40" y1="298.5" x2="760" y2="298.5"/><line x1="40" y1="329.5" x2="760" y2="329.5"/><line x1="40" y1="360.5" x2="760" y2="360.5"/><line x1="40" y1="390.5" x2="760" y2="390.5"/><line x1="40" y1="421.5" x2="760" y2="421.5"/><line x1="40" y1="452.5" x2="760" y2="452.5"/>
<line x1="130.5" y1="40" x2="130.5" y2="460"/><line x1="220.5" y1="40" x2="220.5" y2="460"/><line x1="310.5" y1="40" x2="310.5" y2="460"/><line x1="400.5" y1="40" x2="400.5" y2="460"/><line x1="490.5" y1="40" x2="490.5" y2="460"/><line x1="580.5" y1="40" x2="580.5" y2="460"/><line x1="670.5" y1="40" x2="670.5" y2="460"/>
</g>
<g stroke="#000" stroke-width="1" fill="none">
<rect x="40.5" y="40.5" width="720" height="420"/>
<line x1="40.5" y1="461" x2="40.5" y2="463"/><line x1="70.5" y1="461" x2="70.5" y2="463"/><line x1="100.5" y1="461" x2="100.5" y2="463"/><line x1="130.5" y1="461" x2="130.5" y2="463"/><line x1="160.5" y1="461" x2="160.5" y2="463"/><line x1="190.5" y1="461" x2="190.5" y2="463"/><line x1="220.5" y1="461" x2="220.5" y2="463"/><line x1="250.5" y1="461" x2="250.5" y2="463"/><line x1="280.5" y1="461" x2="280.5" y2="463"/><line x1="310.5" y1="461" x2="310.5" y2="463"/><line x1="340.5" y1="461" x2="340.5" y2="463"/><line x1="370.5" y1="461" x2="370.5" y2="463"/><line x1="400.5" y1="461" x2="400.5" y2="463"/><line x1="430.5" y1="461" x2="430.5" y2="463"/><line x1="460.5" y1="461" x2="460.5" y2="463"/><line x1="490.5" y1="461" x2="490.5" y2="463"/><line x1="520.5" y1="461" x2="520.5" y2="463"/><line x1="550.5" y1="461" x2="550.5" y2="463"/><line x1="580.5" y1="461" x2="580.5" y2="463"/><line x1="610.5" y1="461" x2="610.5" y2="463"/><line x1="640.5" y1="461" x2="640.5" y2="463"/><line x1="670.5" y1="461" x2="670.5" y2="463"/><line x1="700.5" y1="461" x2="700.5" y2="463"/><line x1="730.5" y1="461" x2="730.5" y2="463"/><line x1="760.5" y1="461" x2="760.5" y2="463"/>
</g>
</svg>
</div></body></html>
